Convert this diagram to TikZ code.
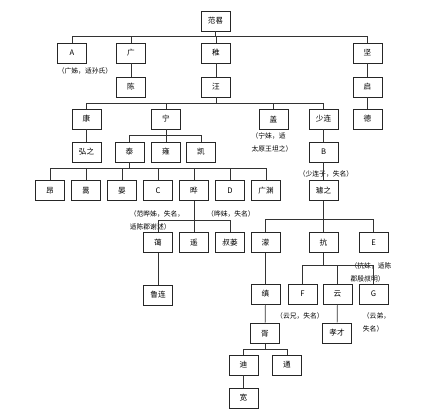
\documentclass[tikz,border=0pt]{standalone}
\usepackage{fontspec}
\setmainfont{Noto Sans CJK SC}
\usetikzlibrary{positioning}

\begin{document}
\begin{tikzpicture}[
    x=0.03cm, y=-0.03cm,
    person/.style={rectangle, draw=black!85, line width=0.8pt, minimum width=0.87cm, minimum height=0.6cm, inner sep=0pt, font=\fontsize{6.5}{7}\selectfont},
    note/.style={align=left, inner sep=0pt, font=\fontsize{5.8}{11}\selectfont},
    link/.style={draw=black!80, line width=0.6pt}
]
    \useasboundingbox (0,0) rectangle (440,418);

    % generations
    \node[person] (fanGui) at (215.5,21) {范晷};

    \node[person] (a)     at (72,53)    {A};
    \node[person] (guang) at (131,53)   {广};
    \node[person] (zhi)   at (216,53)   {稚};
    \node[person] (jian)  at (367.5,53) {坚};

    \node[person] (chen) at (131,87)   {陈};
    \node[person] (wang) at (216,87)   {汪};
    \node[person] (qi)   at (367.5,87) {启};

    \node[person] (kang)     at (86.5,119)  {康};
    \node[person] (ning)     at (166,119)   {宁};
    \node[person] (gai)      at (273.5,119) {盖};
    \node[person] (shaolian) at (323.5,119) {少连};
    \node[person] (de)       at (367.5,119) {德};

    \node[person] (hongzhi) at (86.5,152)  {弘之};
    \node[person] (tai)     at (129.5,152) {泰};
    \node[person] (yong)    at (166,152)   {雍};
    \node[person] (kai)     at (201,152)   {凯};
    \node[person] (b)       at (323.5,152) {B};

    \node[person] (ang)       at (50,190.5)    {昂};
    \node[person] (hao)       at (86,190.5)    {暠};
    \node[person] (yan)       at (122,190.5)   {晏};
    \node[person] (c)         at (158,190.5)   {C};
    \node[person] (ye)        at (194,190.5)   {晔};
    \node[person] (d)         at (230,190.5)   {D};
    \node[person] (guangyuan) at (266,190.5)   {广渊};
    \node[person] (quzhi)     at (323.5,190.5) {璩之};

    \node[person] (ai)     at (158,242.5)   {蔼};
    \node[person] (yao)    at (194,242.5)   {遥};
    \node[person] (shuwei) at (230,242.5)   {叔蒌};
    \node[person] (meng)   at (265.5,242.5) {濛};
    \node[person] (kang2)  at (323.5,242.5) {抗};
    \node[person] (e)      at (373.5,242.5) {E};

    \node[person] (lulian) at (158,295)   {鲁连};
    \node[person] (zhen)   at (265.5,294) {缜};
    \node[person] (f)      at (302.5,294) {F};
    \node[person] (yun)    at (337.5,294) {云};
    \node[person] (g)      at (373.5,294) {G};

    \node[person] (xu)     at (265,333.5) {胥};
    \node[person] (xiaocai) at (337,333)  {孝才};

    \node[person] (di)   at (243.5,365) {迪};
    \node[person] (tong) at (287,365)   {通};

    \node[person] (kuan) at (243.5,398) {宽};

    % notes
    \node[note] (noteA) at (85,71)      {（广姊，适孙氏）};
    \node[note] (noteGai) at (272,142.5) {（宁妹，适\\太原王坦之）};
    \node[note] (noteB) at (326,174)    {（少连子，失名）};
    \node[note] (noteC) at (157,220)    {（范晔姊，失名，\\适陈郡谢述）};
    \node[note] (noteD) at (231,214)    {（晔妹，失名）};
    \node[note] (noteE) at (371,272)    {（抗妹，适陈\\郡殷叔明）};
    \node[note] (noteF) at (300,316)    {（云兄，失名）};
    \node[note] (noteG) at (376.5,322.5) {（云弟，\\失名）};

    % bars
    \coordinate (bar0) at (0,36);
    \coordinate (bar1) at (0,103);
    \coordinate (bar2) at (0,135);
    \coordinate (bar3) at (0,168);
    \coordinate (bar4) at (0,220);
    \coordinate (bar5) at (0,219);
    \coordinate (bar6) at (0,265);
    \coordinate (bar7) at (0,349);

    % fan Gui's children
    \draw[link] (fanGui.south) -- (fanGui.south |- bar0);
    \draw[link] (a.north) |- (jian.north |- bar0) -- (jian.north);
    \foreach \k in {guang,zhi} \draw[link] (\k.north) -- (\k.north |- bar0);

    \draw[link] (guang) -- (chen);
    \draw[link] (zhi) -- (wang);
    \draw[link] (jian) -- (qi);
    \draw[link] (qi) -- (de);

    % wang's children
    \draw[link] (wang.south) -- (wang.south |- bar1);
    \draw[link] (kang.north) |- (shaolian.north |- bar1) -- (shaolian.north);
    \foreach \k in {ning,gai} \draw[link] (\k.north) -- (\k.north |- bar1);

    \draw[link] (kang) -- (hongzhi);
    \draw[link] (shaolian) -- (b);
    \draw[link] (b) -- (quzhi);

    % ning's children
    \draw[link] (ning.south) -- (ning.south |- bar2);
    \draw[link] (tai.north) |- (kai.north |- bar2) -- (kai.north);
    \draw[link] (yong.north) -- (yong.north |- bar2);

    % tai's children
    \draw[link] (tai.south) -- (tai.south |- bar3);
    \draw[link] (ang.north) |- (guangyuan.north |- bar3) -- (guangyuan.north);
    \foreach \k in {hao,yan,c,ye,d} \draw[link] (\k.north) -- (\k.north |- bar3);

    % ye's children
    \draw[link] (ye.south) -- (yao.north);
    \draw[link] (ai.north) |- (shuwei.north |- bar4) -- (shuwei.north);
    \draw[link] (ai) -- (lulian);

    % quzhi's children
    \draw[link] (quzhi.south) -- (kang2.north);
    \draw[link] (meng.north) |- (e.north |- bar5) -- (e.north);
    \draw[link] (meng) -- (zhen);
    \draw[link] (zhen) -- (xu);

    % kang2's children
    \draw[link] (kang2.south) -- (kang2.south |- bar6);
    \draw[link] (f.north) |- (g.north |- bar6) -- (g.north);
    \draw[link] (yun.north) -- (yun.north |- bar6);
    \draw[link] (yun) -- (xiaocai);

    % xu's children
    \draw[link] (xu.south) -- (xu.south |- bar7);
    \draw[link] (di.north) |- (tong.north |- bar7) -- (tong.north);
    \draw[link] (di) -- (kuan);
\end{tikzpicture}
\end{document}
